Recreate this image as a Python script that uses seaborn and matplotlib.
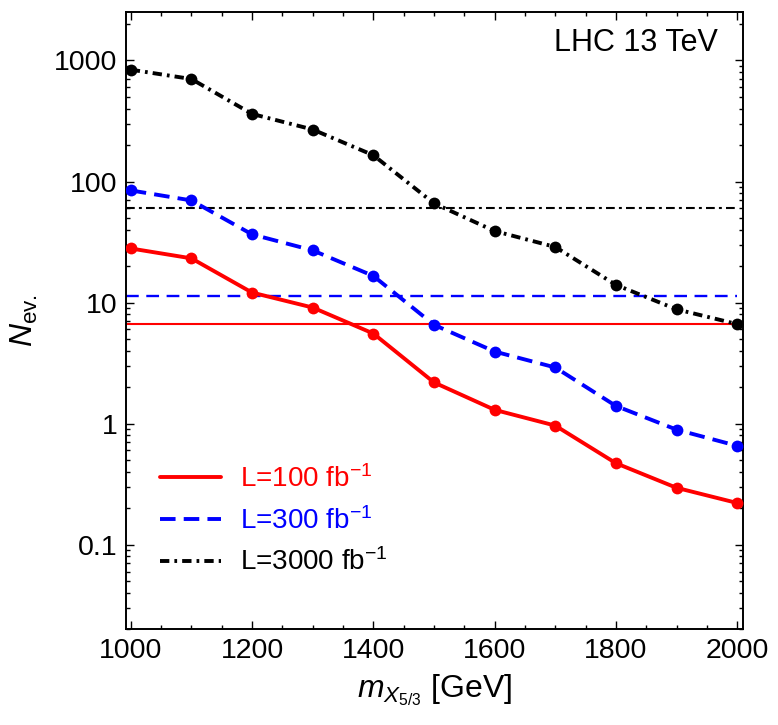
import matplotlib
matplotlib.use("Agg")
import matplotlib.pyplot as plt
import seaborn as sns
import pandas as pd
from matplotlib.ticker import FixedLocator, FixedFormatter, MultipleLocator, LogLocator, NullFormatter
from matplotlib.lines import Line2D

# ---------------- data ----------------
masses = [1000, 1100, 1200, 1300, 1400, 1500, 1600, 1700, 1800, 1900, 2000]
n_L100 = [28.0, 23.2, 12.1, 9.1, 5.55, 2.19, 1.30, 0.963, 0.471, 0.295, 0.221]
n_L300 = [84.5, 69.8, 36.6, 27.0, 16.6, 6.55, 3.94, 2.91, 1.40, 0.892, 0.655]
n_L3000 = [840, 703, 362, 269, 165, 66, 39, 28.8, 14.0, 8.8, 6.64]
thr_L100 = 6.64
thr_L300 = 11.3
thr_L3000 = 60.7
series_labels = ["L=100 fb$^{-1}$", "L=300 fb$^{-1}$", "L=3000 fb$^{-1}$"]
ytick_vals = [0.1, 1, 10, 100, 1000]
ytick_labels = ["0.1", "1", "10", "100", "1000"]
xtick_vals = [1000, 1200, 1400, 1600, 1800, 2000]
xtick_labels = ["1000", "1200", "1400", "1600", "1800", "2000"]

# ---------------- style ----------------
sns.set_style("ticks")
plt.rcParams["font.family"] = ["Liberation Sans", "DejaVu Sans"]
plt.rcParams["mathtext.fontset"] = "custom"
plt.rcParams["mathtext.rm"] = "Liberation Sans"
plt.rcParams["mathtext.it"] = "Liberation Sans:italic"
plt.rcParams["mathtext.bf"] = "Liberation Sans:bold"
for k in ["text.color", "axes.labelcolor", "xtick.color", "ytick.color", "axes.edgecolor"]:
    plt.rcParams[k] = "black"

fig = plt.figure(figsize=(7.78, 7.25), dpi=100)
ax = fig.add_axes([0.1616, 0.132, 0.7938, 0.851])

colors = ["#ff0000", "#0000ff", "#000000"]
lw_c = 2.8
styles = ["-", (0, (4.0, 2.1)), (0, (2.4, 1.3, 0.7, 1.3))]
data = [n_L100, n_L300, n_L3000]

for vals, col, ls in zip(data, colors, styles):
    df = pd.DataFrame({"m": masses, "N": vals})
    sns.lineplot(data=df, x="m", y="N", ax=ax, color=col, linestyle=ls, lw=lw_c,
                 marker="o", markersize=8.5, markeredgewidth=0, markerfacecolor=col,
                 markeredgecolor=col, legend=False, zorder=3)

XMIN, XMAX = 991.7, 2010
YMIN, YMAX = 0.02, 2500

# threshold lines
lw_h = 1.5
ax.hlines(thr_L100, XMIN, masses[-1], colors=colors[0], linestyles="-", lw=lw_h, zorder=2)
ax.hlines(thr_L300, XMIN, masses[-1], colors=colors[1], linestyles=[(0, (5.4, 3.2))], lw=1.7, zorder=2)
ax.hlines(thr_L3000, XMIN, masses[-1], colors=colors[2], linestyles=[(0, (4.2, 2.0, 1.4, 2.0))], lw=lw_h, zorder=2)

ax.set_yscale("log")
ax.set_xlim(XMIN, XMAX)
ax.set_ylim(YMIN, YMAX)

ax.yaxis.set_major_locator(FixedLocator(ytick_vals))
ax.yaxis.set_major_formatter(FixedFormatter(ytick_labels))
ax.yaxis.set_minor_locator(LogLocator(base=10, subs=range(2, 10), numticks=20))
ax.yaxis.set_minor_formatter(NullFormatter())
ax.xaxis.set_major_locator(FixedLocator(xtick_vals))
ax.xaxis.set_major_formatter(FixedFormatter(xtick_labels))
ax.xaxis.set_minor_locator(MultipleLocator(50))

ax.tick_params(which="both", direction="in", top=True, right=True, color="black", width=1.0)
ax.tick_params(which="major", length=5.5, labelsize=20.5, pad=6)
ax.tick_params(which="minor", length=3)
for sp in ax.spines.values():
    sp.set_linewidth(1.4)
    sp.set_color("black")

ax.set_xlabel(r"$m_{X_{5/3}}$ [GeV]", fontsize=23, labelpad=6)
ax.set_ylabel(r"$N_{\mathrm{ev.}}$", fontsize=23, labelpad=10)

ax.text(0.959, 0.950, "LHC 13 TeV", transform=ax.transAxes, ha="right", va="center", fontsize=22)

handles = [Line2D([], [], color=c, linestyle=s, lw=lw_c) for c, s in zip(colors, styles)]
leg = ax.legend(handles, series_labels, loc="upper left", bbox_to_anchor=(0.055, 0.266),
                frameon=False, fontsize=20, handlelength=2.2, handletextpad=0.7,
                labelspacing=0.5, borderpad=0, borderaxespad=0)
for t, c in zip(leg.get_texts(), colors):
    t.set_color(c)

fig.savefig("out.png", dpi=100)
